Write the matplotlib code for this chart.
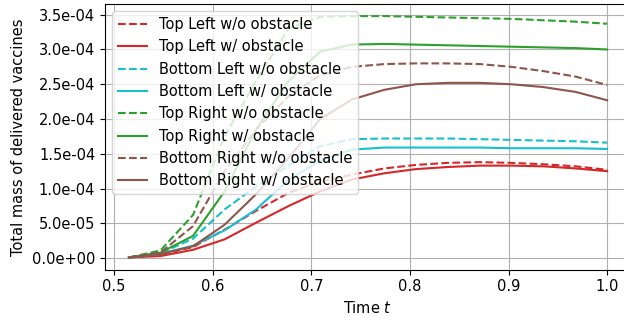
import numpy as np
import matplotlib
matplotlib.use('Agg')
import matplotlib.pyplot as plt
from matplotlib.ticker import FormatStrFormatter

plt.rcParams['font.size'] = 10.5

# time points of the simulation output
time = [0.515, 0.547, 0.580, 0.612, 0.644, 0.677, 0.709, 0.741,
        0.774, 0.806, 0.838, 0.871, 0.903, 0.935, 0.968, 1.000]

# delivered mass per source location (x1e-4)
tl_wo = [0.01, 0.05, 0.16, 0.41, 0.68, 0.94, 1.10, 1.20,
         1.29, 1.34, 1.37, 1.38, 1.37, 1.35, 1.32, 1.27]
tl_w = [0.01, 0.03, 0.12, 0.27, 0.51, 0.75, 0.96, 1.13,
        1.22, 1.28, 1.31, 1.33, 1.33, 1.32, 1.29, 1.25]
bl_wo = [0.01, 0.07, 0.28, 0.70, 1.03, 1.33, 1.61, 1.71,
         1.72, 1.72, 1.72, 1.71, 1.70, 1.69, 1.68, 1.66]
bl_w = [0.01, 0.06, 0.18, 0.40, 0.70, 1.13, 1.40, 1.56,
        1.59, 1.59, 1.59, 1.59, 1.58, 1.58, 1.58, 1.57]
tr_wo = [0.01, 0.11, 0.62, 1.75, 2.55, 3.30, 3.47, 3.48,
         3.48, 3.47, 3.46, 3.45, 3.44, 3.42, 3.40, 3.37]
tr_w = [0.01, 0.08, 0.32, 0.96, 1.85, 2.55, 2.97, 3.07,
        3.08, 3.07, 3.06, 3.05, 3.04, 3.03, 3.02, 3.00]
br_wo = [0.01, 0.08, 0.46, 1.25, 1.85, 2.33, 2.63, 2.75,
         2.79, 2.80, 2.80, 2.79, 2.75, 2.69, 2.61, 2.49]
br_w = [0.01, 0.06, 0.17, 0.48, 0.92, 1.44, 2.00, 2.28,
        2.42, 2.50, 2.52, 2.52, 2.50, 2.46, 2.39, 2.27]

series = [
    (tl_wo, 'tab:red', '--', 'Top Left w/o obstacle'),
    (tl_w, 'tab:red', '-', 'Top Left w/ obstacle'),
    (bl_wo, 'tab:cyan', '--', 'Bottom Left w/o obstacle'),
    (bl_w, 'tab:cyan', '-', 'Bottom Left w/ obstacle'),
    (tr_wo, 'tab:green', '--', 'Top Right w/o obstacle'),
    (tr_w, 'tab:green', '-', 'Top Right w/ obstacle'),
    (br_wo, 'tab:brown', '--', 'Bottom Right w/o obstacle'),
    (br_w, 'tab:brown', '-', 'Bottom Right w/ obstacle'),
]

fig = plt.figure(figsize=(6.24, 3.22), dpi=100)
ax = fig.add_axes([0.1683, 0.163, 0.843, 0.8245])

for vals, color, ls, label in series:
    ax.plot(time, np.array(vals) * 1e-4, color=color, linestyle=ls, label=label)

ax.yaxis.set_major_formatter(FormatStrFormatter('%.1e'))
ax.set_xlabel('Time $t$')
ax.set_ylabel('Total mass of delivered vaccines')
ax.grid(True)
ax.legend(loc='upper left')

fig.savefig('out.png', dpi=100)
